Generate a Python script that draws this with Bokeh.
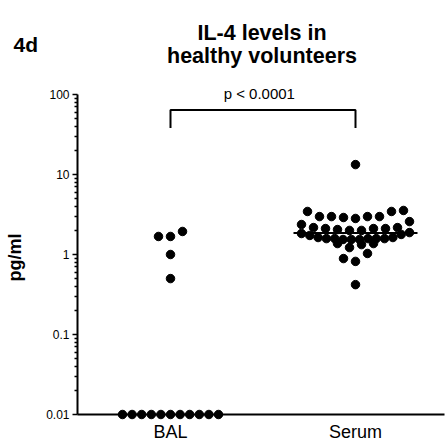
import numpy as np
from bokeh.plotting import figure
from bokeh.models import Range1d, FixedTicker, CustomJSTickFormatter, Label
from bokeh.embed import file_html
from bokeh.resources import INLINE

# ---------------- data ----------------
categories = ["BAL", "Serum"]
bal_values = [1.94, 1.68, 1.68, 1.0, 0.50,
              0.01, 0.01, 0.01, 0.01, 0.01, 0.01, 0.01, 0.01, 0.01, 0.01, 0.01]
serum_values = [13.3, 3.55, 3.45, 3.45, 2.98, 2.98, 2.98, 2.98, 2.9, 2.82, 2.58,
                2.37, 2.17, 2.17, 2.11, 2.11, 2.11, 2.05, 2.0, 2.0, 1.88, 1.83,
                1.78, 1.73, 1.63, 1.63, 1.58, 1.58, 1.58, 1.58, 1.58, 1.54, 1.54,
                1.54, 1.37, 1.37, 1.33, 1.22, 1.03, 0.89, 0.82, 0.42]
y_ticks = [0.01, 0.1, 1, 10, 100]
y_tick_labels = ["0.01", "0.1", "1", "10", "100"]
title_lines = ["IL-4 levels in", "healthy volunteers"]
panel_label = "4d"
p_text = "p < 0.0001"
y_label = "pg/ml"

# ---------------- layout (pixels inside the figure) ----------------
W, H = 446, 442
PPX = 185.0          # px per category unit
PPD = 80.0           # px per decade
Y100 = 94.0          # px row of the value 100
X_BAL = 170.0        # px column of the first category
AXIS_PX = 77.0       # px column of the y axis
FONT = "Liberation Sans"


def fx(px):
    return 1 + (px - X_BAL) / PPX


def fy(py):
    return 10 ** (2 - (py - Y100) / PPD)


def column_scatter(vals, row_px=9.5, half=54.0, gap=12.0):
    """Prism-like column scatter: values grouped in rows, spread symmetrically,
    lowest values of a row nearest the centre."""
    ys = np.log10(np.asarray(vals, dtype=float)) * PPD
    order = sorted(range(len(vals)), key=lambda i: -ys[i])
    rows, start = [], None
    for i in order:
        if start is None or ys[i] < start - row_px:
            rows.append([i])
            start = ys[i]
        else:
            rows[-1].append(i)
    offs = np.zeros(len(vals))
    for r in rows:
        n = len(r)
        s = gap if n == 1 else min(gap, 2 * half / (n - 1))
        slots = [(j - (n - 1) / 2) * s for j in range(n)]
        slots.sort(key=lambda c: (round(abs(c), 6), c))
        members = sorted(r, key=lambda i: ys[i])
        for i, c in zip(members, slots):
            offs[i] = c
    return offs / PPX


p = figure(width=W, height=H, output_backend="svg", toolbar_location=None,
           x_range=Range1d(fx(0), fx(W)), y_range=Range1d(fy(H), fy(0)),
           y_axis_type="log", min_border=0, min_border_left=0, min_border_right=0,
           min_border_top=0, min_border_bottom=0)
p.outline_line_color = None
p.grid.visible = False
p.background_fill_color = "white"
p.border_fill_color = "white"

axis_x = fx(AXIS_PX)
x_end = fx(W - 2)

# y axis (placed at the data position of the axis)
ya = p.yaxis[0]
ya.fixed_location = axis_x
minor = [k * 10.0 ** e for e in range(-2, 2) for k in range(2, 10)]
ya.ticker = FixedTicker(ticks=y_ticks, minor_ticks=minor)
ya.formatter = CustomJSTickFormatter(
    args=dict(tvals=y_ticks, tlabs=y_tick_labels),
    code="const i = tvals.findIndex(t => Math.abs(Math.log10(t) - Math.log10(tick)) < 1e-6);"
         "return i >= 0 ? tlabs[i] : '';")
ya.axis_line_color = None
ya.major_tick_out = 5
ya.major_tick_in = 0
ya.minor_tick_out = 3
ya.minor_tick_in = 0
ya.major_tick_line_width = 1.5
ya.minor_tick_line_width = 1.5
ya.major_tick_line_color = "black"
ya.minor_tick_line_color = "black"
ya.major_label_text_font = FONT
ya.major_label_text_font_size = "12px"
ya.major_label_text_color = "black"
ya.major_label_standoff = 3

# x axis (placed at the 0.01 level)
xa = p.xaxis[0]
xa.fixed_location = y_ticks[0]
xa.ticker = FixedTicker(ticks=[1, 2])
xa.formatter = CustomJSTickFormatter(args=dict(cats=categories),
                                     code="return cats[Math.round(tick) - 1];")
xa.axis_line_color = None
xa.major_tick_line_color = None
xa.minor_tick_line_color = None
xa.major_tick_out = 0
xa.major_tick_in = 0
xa.major_label_standoff = 7
xa.major_label_text_font = FONT
xa.major_label_text_font_size = "18px"
xa.major_label_text_color = "black"

# axis lines
p.segment(x0=[axis_x], y0=[y_ticks[0]], x1=[axis_x], y1=[y_ticks[-1]],
          line_color="black", line_width=2)
p.segment(x0=[axis_x], y0=[y_ticks[0]], x1=[x_end], y1=[y_ticks[0]],
          line_color="black", line_width=2)

# points
bal_x = 1 + column_scatter(bal_values, half=48.0)
serum_x = 2 + column_scatter(serum_values)
p.scatter(x=list(bal_x), y=bal_values, size=8.5, marker="circle",
          fill_color="black", line_color="black")
p.scatter(x=list(serum_x), y=serum_values, size=8.5, marker="circle",
          fill_color="black", line_color="black")

# median of the serum group
half = 62 / PPX
med = float(np.median(serum_values))
p.segment(x0=[2 - half], y0=[med], x1=[2 + half], y1=[med],
          line_color="black", line_width=2)

# significance bracket
b_top, b_bot = fy(109.5), fy(127.5)
p.line(x=[1, 1, 2, 2], y=[b_bot, b_top, b_top, b_bot], line_color="black", line_width=2)
p.add_layout(Label(x=fx(258.8), y=fy(93), text=p_text, text_align="center",
                   text_baseline="alphabetic", text_font=FONT,
                   text_font_size="15px", text_color="black"))

# title, panel label, y label
p.add_layout(Label(x=fx(261.5), y=fy(32), text=title_lines[0], text_align="center",
                   text_baseline="alphabetic", text_font=FONT,
                   text_font_size="21.5px", text_font_style="bold", text_color="black"))
p.add_layout(Label(x=fx(261.5), y=fy(55), text=title_lines[1], text_align="center",
                   text_baseline="alphabetic", text_font=FONT,
                   text_font_size="21.5px", text_font_style="bold", text_color="black"))
p.add_layout(Label(x=fx(13), y=fy(44), text=panel_label, text_align="left",
                   text_baseline="middle", text_font=FONT,
                   text_font_size="21px", text_font_style="bold", text_color="black"))
p.add_layout(Label(x=fx(14), y=fy(257), text=y_label, text_align="center",
                   text_baseline="middle", angle=np.pi / 2, text_font=FONT,
                   text_font_size="18px", text_font_style="bold", text_color="black"))

open("out.html", "w").write(file_html(p, INLINE))
